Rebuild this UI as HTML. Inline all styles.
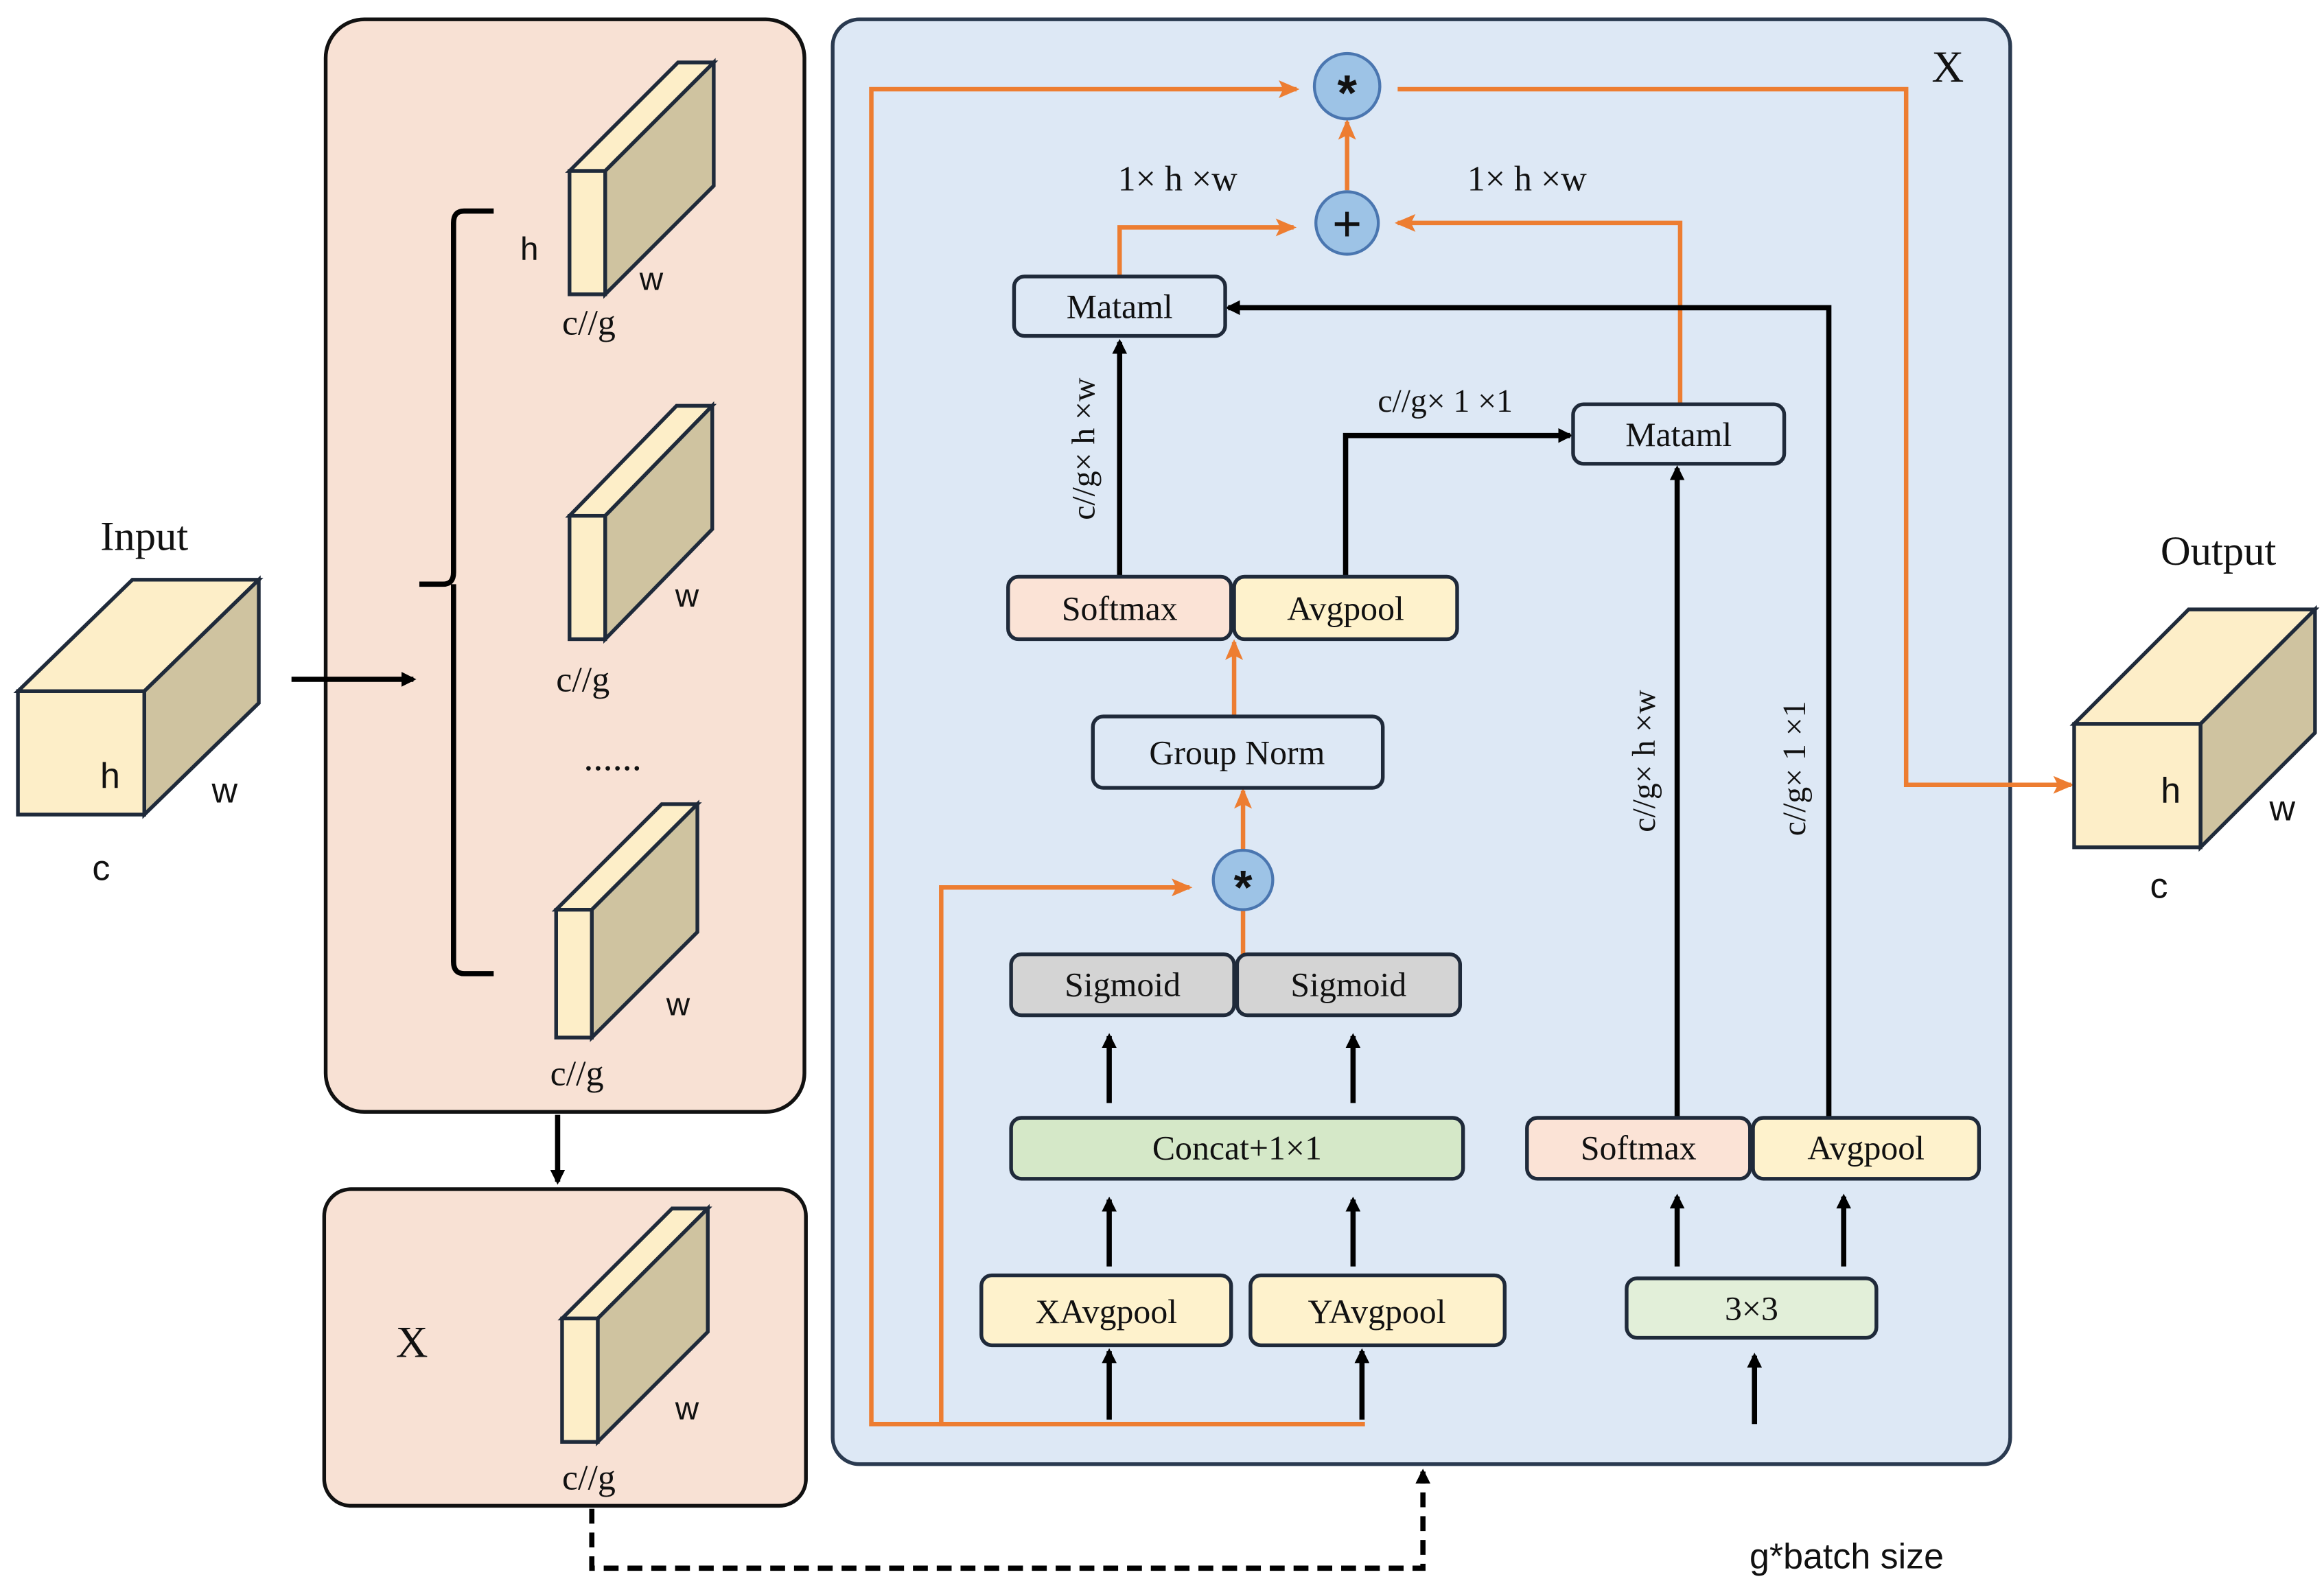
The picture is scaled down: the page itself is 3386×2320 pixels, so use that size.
<!DOCTYPE html>
<html><head><meta charset="utf-8"><style>html,body{margin:0;padding:0;background:#fff}svg{display:block}</style></head><body>
<svg width="3386" height="2320" viewBox="0 0 1563 1071" xmlns="http://www.w3.org/2000/svg">
<defs>
<marker id="ab" markerWidth="10" markerHeight="10" refX="8" refY="5" orient="auto" markerUnits="userSpaceOnUse"><path d="M0,0 L10,5 L0,10 z" fill="#000"/></marker>
<marker id="ao" markerWidth="14" markerHeight="12" refX="12" refY="6" orient="auto" markerUnits="userSpaceOnUse"><path d="M0,0 L14,6 L0,12 L3,6 z" fill="#ed7d31"/></marker>
</defs>
<style>
.sf{font-family:"Liberation Serif",serif;fill:#111}
.ss{font-family:"Liberation Sans",sans-serif;fill:#111}
.bx{stroke:#1f2a3a;stroke-width:2.5}
.k{stroke:#000;stroke-width:3.5;fill:none}
.o{stroke:#ed7d31;stroke-width:3;fill:none}
</style>
<rect x="0" y="0" width="1563" height="1071" fill="#fff"/>
<rect x="219" y="13" width="322" height="735" rx="26" fill="#f8e1d4" stroke="#111" stroke-width="2.5"/>
<rect x="218" y="800" width="324" height="213" rx="18" fill="#f8e1d4" stroke="#111" stroke-width="2.5"/>
<rect x="560" y="13" width="792" height="972" rx="18" fill="#dde8f5" stroke="#2a3a50" stroke-width="2.5"/>
<g stroke="#1f2a3a" stroke-width="2.5">
<path d="M12,465 L89,390 L174,390 L97,465 z" fill="#fdeec8"/>
<path d="M97,465 L174,390 L174,473 L97,548 z" fill="#cfc3a0"/>
<rect x="12" y="465" width="85" height="83" fill="#fdeec8"/>
</g>
<text x="97" y="370" class="sf" font-size="28" text-anchor="middle">Input</text>
<text x="74" y="530" class="ss" font-size="24" text-anchor="middle">h</text>
<text x="151" y="540" class="ss" font-size="24" text-anchor="middle">w</text>
<text x="68" y="592" class="ss" font-size="24" text-anchor="middle">c</text>
<line x1="196" y1="457" x2="278" y2="457" class="k" marker-end="url(#ab)"/>
<path d="M332,142 L312,142 Q305,142 305,150 L305,385 Q305,393 298,393 L282,393 M305,393 L305,647 Q305,655 312,655 L332,655" class="k" stroke-width="3"/>
<g stroke="#1f2a3a" stroke-width="2.5">
<path d="M383,115 L456,42 L480,42 L407,115 z" fill="#fdeec8"/><path d="M407,115 L480,42 L480,125 L407,198 z" fill="#cfc3a0"/><rect x="383" y="115" width="24" height="83" fill="#fdeec8"/>
<path d="M383,347 L455,273 L479,273 L407,347 z" fill="#fdeec8"/><path d="M407,347 L479,273 L479,356 L407,430 z" fill="#cfc3a0"/><rect x="383" y="347" width="24" height="83" fill="#fdeec8"/>
<path d="M374,612 L445,541 L469,541 L398,612 z" fill="#fdeec8"/><path d="M398,612 L469,541 L469,627 L398,698 z" fill="#cfc3a0"/><rect x="374" y="612" width="24" height="86" fill="#fdeec8"/>
<path d="M378,887 L452,813 L476,813 L402,887 z" fill="#fdeec8"/><path d="M402,887 L476,813 L476,896 L402,970 z" fill="#cfc3a0"/><rect x="378" y="887" width="24" height="83" fill="#fdeec8"/>
</g>
<g class="ss" font-size="22">
<text x="356" y="175" text-anchor="middle">h</text>
<text x="438" y="195" text-anchor="middle">w</text>
<text x="462" y="408" text-anchor="middle">w</text>
<text x="456" y="683" text-anchor="middle">w</text>
<text x="462" y="955" text-anchor="middle">w</text>
</g>
<g class="sf" font-size="24" text-anchor="middle">
<text x="396" y="225">c//g</text><text x="392" y="465">c//g</text><text x="388" y="730">c//g</text><text x="396" y="1002">c//g</text>
<text x="412" y="518" font-size="26">......</text>
<text x="277" y="913" font-size="30">X</text>
</g>
<line x1="375" y1="750" x2="375" y2="795" class="k" marker-end="url(#ab)"/>
<path d="M398,1015 L398,1055 L957,1055 L957,990" class="k" stroke-width="3" stroke-dasharray="10,6" marker-end="url(#ab)"/>
<text x="1242" y="1055" class="ss" font-size="24" text-anchor="middle">g*batch size</text>
<text x="1310" y="55" class="sf" font-size="30" text-anchor="middle">X</text>
<path d="M918,958 L586,958 L586,60 L872,60" class="o" marker-end="url(#ao)"/>
<path d="M633,958 L633,597 L800,597" class="o" marker-end="url(#ao)"/>
<path d="M940,60 L1282,60 L1282,528 L1393,528" class="o" marker-end="url(#ao)"/>
<path d="M906,128 L906,82" class="o" marker-end="url(#ao)"/>
<path d="M753,186 L753,153 L870,153" class="o" marker-end="url(#ao)"/>
<path d="M1130,272 L1130,150 L940,150" class="o" marker-end="url(#ao)"/>
<path d="M830,482 L830,432" class="o" marker-end="url(#ao)"/>
<path d="M836,572 L836,532" class="o" marker-end="url(#ao)"/>
<path d="M836,642 L836,612" class="o"/>
<path d="M753,388 L753,230" class="k" marker-end="url(#ab)"/>
<path d="M905,388 L905,293 L1056,293" class="k" marker-end="url(#ab)"/>
<path d="M1230,752 L1230,207 L826,207" class="k" marker-end="url(#ab)"/>
<path d="M1128,752 L1128,315" class="k" marker-end="url(#ab)"/>
<g class="k">
<path d="M746,742 L746,697" marker-end="url(#ab)"/><path d="M910,742 L910,697" marker-end="url(#ab)"/>
<path d="M746,852 L746,807" marker-end="url(#ab)"/><path d="M910,852 L910,807" marker-end="url(#ab)"/>
<path d="M746,955 L746,909" marker-end="url(#ab)"/><path d="M916,955 L916,909" marker-end="url(#ab)"/>
<path d="M1128,852 L1128,805" marker-end="url(#ab)"/><path d="M1240,852 L1240,805" marker-end="url(#ab)"/>
<path d="M1180,958 L1180,912" marker-end="url(#ab)"/>
</g>
<g stroke="#4a76b0" stroke-width="2" fill="#9dc3e6">
<circle cx="906" cy="58" r="22"/><circle cx="906" cy="150" r="21"/><circle cx="836" cy="592" r="20"/>
</g>
<text x="906" y="74" class="ss" font-size="34" text-anchor="middle" font-weight="bold">*</text>
<text x="906" y="162" class="ss" font-size="34" text-anchor="middle">+</text>
<text x="836" y="608" class="ss" font-size="32" text-anchor="middle" font-weight="bold">*</text>
<g class="bx">
<rect x="682" y="186" width="142" height="40" rx="7" fill="#dde8f5"/>
<rect x="1058" y="272" width="142" height="40" rx="7" fill="#dde8f5"/>
<rect x="678" y="388" width="150" height="42" rx="7" fill="#fbe3d6"/>
<rect x="830" y="388" width="150" height="42" rx="7" fill="#fef2cc"/>
<rect x="735" y="482" width="195" height="48" rx="7" fill="#dde8f5"/>
<rect x="680" y="642" width="150" height="41" rx="7" fill="#d4d4d4"/>
<rect x="832" y="642" width="150" height="41" rx="7" fill="#d4d4d4"/>
<rect x="680" y="752" width="304" height="41" rx="7" fill="#d5e8c8"/>
<rect x="660" y="858" width="168" height="47" rx="7" fill="#fef2cc"/>
<rect x="841" y="858" width="171" height="47" rx="7" fill="#fef2cc"/>
<rect x="1027" y="752" width="150" height="41" rx="7" fill="#fbe3d6"/>
<rect x="1179" y="752" width="152" height="41" rx="7" fill="#fef2cc"/>
<rect x="1094" y="860" width="168" height="40" rx="7" fill="#e2efd9"/>
</g>
<g class="sf" font-size="23" text-anchor="middle">
<text x="753" y="214">Mataml</text>
<text x="1129" y="300">Mataml</text>
<text x="753" y="417">Softmax</text>
<text x="905" y="417">Avgpool</text>
<text x="832" y="514">Group Norm</text>
<text x="755" y="670">Sigmoid</text>
<text x="907" y="670">Sigmoid</text>
<text x="832" y="780">Concat+1×1</text>
<text x="744" y="890">XAvgpool</text>
<text x="926" y="890">YAvgpool</text>
<text x="1102" y="780">Softmax</text>
<text x="1255" y="780">Avgpool</text>
<text x="1178" y="888">3×3</text>
<text x="792" y="128" font-size="24">1× h ×w</text>
<text x="1027" y="128" font-size="24">1× h ×w</text>
<text x="972" y="277" font-size="22">c//g× 1 ×1</text>
<text transform="translate(736,302) rotate(-90)" font-size="22">c//g× h ×w</text>
<text transform="translate(1113,512) rotate(-90)" font-size="22">c//g× h ×w</text>
<text transform="translate(1214,517) rotate(-90)" font-size="22">c//g× 1 ×1</text>
</g>
<g stroke="#1f2a3a" stroke-width="2.5">
<path d="M1395,487 L1472,410 L1557,410 L1480,487 z" fill="#fdeec8"/>
<path d="M1480,487 L1557,410 L1557,493 L1480,570 z" fill="#cfc3a0"/>
<rect x="1395" y="487" width="85" height="83" fill="#fdeec8"/>
</g>
<text x="1492" y="380" class="sf" font-size="28" text-anchor="middle">Output</text>
<text x="1460" y="540" class="ss" font-size="24" text-anchor="middle">h</text>
<text x="1535" y="552" class="ss" font-size="24" text-anchor="middle">w</text>
<text x="1452" y="604" class="ss" font-size="24" text-anchor="middle">c</text>
</svg>
</body></html>
